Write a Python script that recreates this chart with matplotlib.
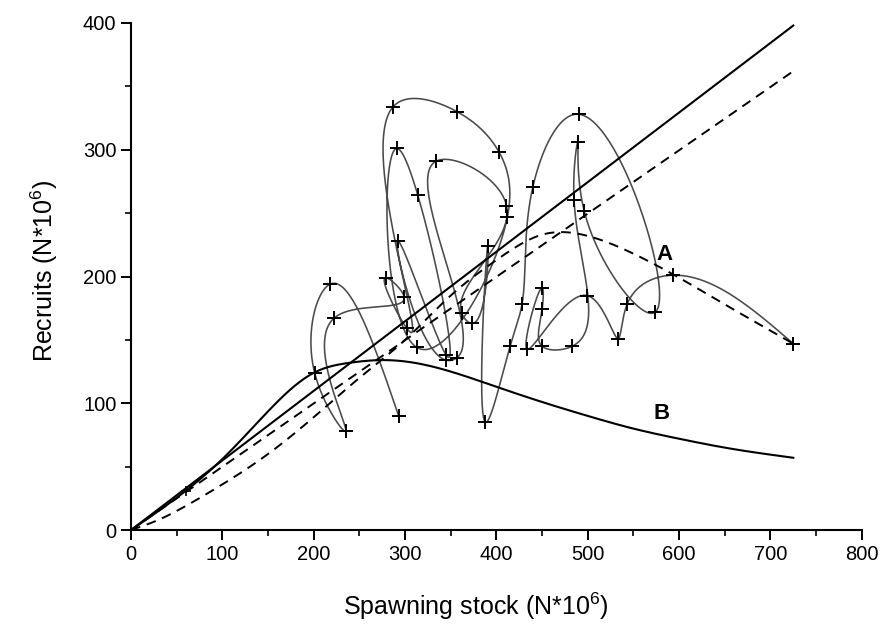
import numpy as np
import matplotlib
matplotlib.use("Agg")
import matplotlib.pyplot as plt

plt.rcParams['font.family'] = ['Liberation Sans', 'DejaVu Sans']
plt.rcParams['mathtext.default'] = 'regular'

# observed stock / recruits, in the order the curve links them
stock = [293, 218, 201, 235, 222, 299, 279, 302, 287, 357, 403, 412, 313, 291, 314,
         345, 292, 345, 357, 334, 411, 362, 373, 391, 388, 415, 428, 440, 490, 574,
         496, 489, 485, 483, 450, 450, 450, 433, 499, 533, 543, 593, 725]
recruits = [90, 194, 124, 78, 167, 184, 199, 159, 334, 330, 298, 247, 144, 301, 264,
            138, 228, 134, 136, 291, 256, 171, 163, 224, 85, 145, 178, 271, 328, 172,
            252, 306, 260, 145, 145, 174, 191, 143, 185, 151, 178, 201, 147]
# lone point near the origin
stock_extra = [60]
recruits_extra = [31]

# model curves
curve_a_x = [0, 30, 60, 100, 150, 200, 250, 300, 350, 400, 450, 500, 550, 600, 650, 725]
curve_a_y = [0, 8, 19, 36, 60, 89, 120, 150, 185, 213, 233, 232, 218, 199, 178, 147]
curve_b_x = [0, 30, 60, 100, 140, 200, 240, 270, 300, 350, 400, 450, 500, 550, 600, 650, 725]
curve_b_y = [0, 15, 31, 56, 86, 124, 132, 134, 133, 125, 113, 101, 90, 80, 72, 65, 57]
# replacement lines
line_x = [0, 725]
line_solid_y = [0, 398]
line_dashed_y = [0, 362]


def natural_spline(t, v, tt):
    t = np.asarray(t, float)
    v = np.asarray(v, float)
    n = len(t)
    h = np.diff(t)
    A = np.zeros((n, n))
    r = np.zeros(n)
    A[0, 0] = A[-1, -1] = 1
    for i in range(1, n - 1):
        A[i, i - 1] = h[i - 1]
        A[i, i] = 2 * (h[i - 1] + h[i])
        A[i, i + 1] = h[i]
        r[i] = 6 * ((v[i + 1] - v[i]) / h[i] - (v[i] - v[i - 1]) / h[i - 1])
    M = np.linalg.solve(A, r)
    k = np.clip(np.searchsorted(t, tt) - 1, 0, n - 2)
    hk = h[k]
    a = t[k + 1] - tt
    b = tt - t[k]
    return (M[k] * a ** 3 / (6 * hk) + M[k + 1] * b ** 3 / (6 * hk)
            + (v[k] / hk - M[k] * hk / 6) * a + (v[k + 1] / hk - M[k + 1] * hk / 6) * b)


fig = plt.figure(figsize=(8.83, 6.30), dpi=100)
ax = fig.add_axes([0.1484, 0.1587, 0.8276, 0.8048])

# gray path through the observations, chord-length parameter
sx = np.array(stock, float)
sy = np.array(recruits, float)
seg = np.hypot(np.diff(sx), np.diff(sy) * 1.4) ** 0.8
t = np.concatenate([[0], np.cumsum(seg)])
tt = np.linspace(0, t[-1], 4000)
ax.plot(natural_spline(t, sx, tt), natural_spline(t, sy, tt),
        color='#4a4a4a', lw=1.15, zorder=2)
ax.plot(stock, recruits, ls='none', marker='+', ms=10, mew=1.4, color='black', zorder=4)
ax.plot(stock_extra, recruits_extra, ls='none', marker='+', ms=7, mew=1.2, color='black', zorder=4)

xa = np.linspace(0, 725, 400)
ax.plot(xa, natural_spline(curve_a_x, curve_a_y, xa), color='black', lw=1.4,
        ls=(0, (5, 3.5)), zorder=3)
ax.plot(xa, natural_spline(curve_b_x, curve_b_y, xa), color='black', lw=1.5, zorder=3)
ax.plot(line_x, line_solid_y, color='black', lw=1.5, zorder=3)
ax.plot(line_x, line_dashed_y, color='black', lw=1.4, ls=(0, (5, 3.5)), zorder=3)

ax.text(584, 217, 'A', fontsize=16, fontweight='bold', ha='center', va='center')
ax.text(581, 92, 'B', fontsize=16, fontweight='bold', ha='center', va='center')

ax.set_xlim(0, 800)
ax.set_ylim(0, 400)
ax.set_xticks(np.arange(0, 801, 100))
ax.set_xticks(np.arange(50, 800, 100), minor=True)
ax.set_yticks(np.arange(0, 401, 100))
ax.set_yticks(np.arange(50, 400, 100), minor=True)
for s in ['top', 'right']:
    ax.spines[s].set_visible(False)
for s in ['left', 'bottom']:
    ax.spines[s].set_linewidth(1.5)
ax.tick_params(which='major', direction='out', length=7, width=1.4, labelsize=14.5)
ax.tick_params(which='minor', direction='out', length=4, width=1.2)

ax.set_xlabel('Spawning stock (N*10$^6$)', fontsize=18)
ax.set_ylabel('Recruits (N*10$^6$)', fontsize=18)
ax.xaxis.set_label_coords(0.472, -0.12)
ax.yaxis.set_label_coords(-0.097, 0.51)

fig.savefig('out.png', dpi=100)
